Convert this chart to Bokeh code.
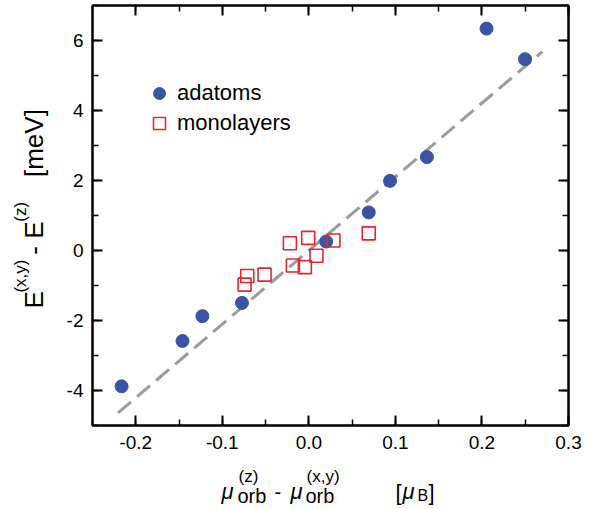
import numpy as np
from bokeh.plotting import figure
from bokeh.layouts import row, column
from bokeh.models import Range1d, LinearAxis, FixedTicker, Legend, LegendItem
from bokeh.core.properties import value
from bokeh.embed import file_html
from bokeh.resources import INLINE

# ---- data ----
adatom_x = [-0.2164, -0.146, -0.123, -0.0773, 0.020, 0.0692, 0.0938, 0.1364, 0.2053, 0.2498]
adatom_y = [-3.88, -2.585, -1.875, -1.497, 0.256, 1.088, 1.99, 2.67, 6.34, 5.466]

mono_x = [-0.0712, -0.0743, -0.0512, -0.0219, -0.0008, -0.0185, -0.0046, 0.0088, 0.0284, 0.0692]
mono_y = [-0.73, -0.974, -0.69, 0.207, 0.36, -0.43, -0.474, -0.15, 0.284, 0.49]

fit_x = [-0.2205, 0.2698]
fit_y = [-4.64, 5.68]

x_ticks = [-0.2, -0.1, 0.0, 0.1, 0.2, 0.3]
x_tick_labels = ["-0.2", "-0.1", "0.0", "0.1", "0.2", "0.3"]
y_ticks = [-4, -2, 0, 2, 4, 6]
y_tick_labels = ["-4", "-2", "0", "2", "4", "6"]
x_minor = [round(v, 2) for v in np.arange(-0.25, 0.3001, 0.05)]
y_minor = list(range(-5, 8))

legend_labels = ["adatoms", "monolayers"]

BLUE = "#3A53A4"
RED = "#E8262A"
GRAY = "#9B9B9B"
FONT = "Liberation Sans"

TOTAL_W, TOTAL_H = 600, 507
LEFT_W = 62          # column holding the rotated y title
TOP_H = 458          # height of the row holding the plot
BOT_H = TOTAL_H - TOP_H

# ---- main plot ----
p = figure(width=TOTAL_W - LEFT_W, height=TOP_H, output_backend="svg", toolbar_location=None,
           x_range=Range1d(-0.25, 0.3), y_range=Range1d(-5, 7),
           min_border_left=92 - LEFT_W, min_border_right=TOTAL_W - 568,
           min_border_top=5, min_border_bottom=TOP_H - 425,
           x_axis_location=None, y_axis_location=None)
p.grid.visible = False
p.outline_line_color = "black"
p.outline_line_width = 2
p.background_fill_color = "white"
p.border_fill_color = "white"


def style_axis(ax, ticks, minor, labels, show_labels):
    ax.ticker = FixedTicker(ticks=ticks, minor_ticks=minor)
    ax.axis_line_color = "black"
    ax.axis_line_width = 2
    ax.major_tick_in = 10
    ax.major_tick_out = 0
    ax.minor_tick_in = 6
    ax.minor_tick_out = 0
    ax.major_tick_line_width = 2
    ax.minor_tick_line_width = 1.5
    ax.major_tick_line_color = "black"
    ax.minor_tick_line_color = "black"
    if show_labels:
        ax.major_label_overrides = {t: l for t, l in zip(ticks, labels)}
        ax.major_label_text_font = FONT
        ax.major_label_text_font_size = "19px"
        ax.major_label_text_color = "black"
        ax.major_label_standoff = 10
    else:
        ax.major_label_overrides = {t: "" for t in ticks}
        ax.major_label_text_font_size = "0px"
        ax.major_label_standoff = 0


bottom = LinearAxis()
style_axis(bottom, x_ticks, x_minor, x_tick_labels, True)
p.add_layout(bottom, "below")
top = LinearAxis()
style_axis(top, x_ticks, x_minor, x_tick_labels, False)
p.add_layout(top, "above")
left = LinearAxis()
style_axis(left, y_ticks, y_minor, y_tick_labels, True)
left.major_label_standoff = 9
p.add_layout(left, "left")
right = LinearAxis()
style_axis(right, y_ticks, y_minor, y_tick_labels, False)
p.add_layout(right, "right")

p.line(fit_x, fit_y, line_color=GRAY, line_width=3, line_dash="17 8")

r_ad = p.scatter(adatom_x, adatom_y, marker="circle", size=13,
                 fill_color=BLUE, line_color=BLUE)
r_mo = p.scatter(mono_x, mono_y, marker="square", size=13,
                 fill_color=None, line_color=RED, line_width=1.6)

legend = Legend(items=[LegendItem(label=legend_labels[0], renderers=[r_ad]),
                       LegendItem(label=legend_labels[1], renderers=[r_mo])],
                location=(52, 287), orientation="vertical",
                glyph_width=30, glyph_height=30, label_height=30, spacing=0,
                padding=0, margin=0, label_standoff=3,
                label_text_font=FONT, label_text_font_size="22px",
                label_text_color="black",
                background_fill_alpha=0, border_line_color=None)
p.add_layout(legend, "center")


def blank(w, h):
    # a figure whose frame is the whole canvas, 1 data unit = 1 pixel
    f = figure(width=w, height=h, output_backend="svg", toolbar_location=None,
               x_range=Range1d(0, w), y_range=Range1d(0, h), title=None,
               min_border_left=0, min_border_right=0, min_border_top=0, min_border_bottom=0,
               x_axis_location=None, y_axis_location=None)
    f.grid.visible = False
    f.outline_line_color = None
    f.background_fill_color = "white"
    f.border_fill_color = "white"
    return f


ytitle = blank(LEFT_W, TOP_H)
xtitle = blank(TOTAL_W, BOT_H)


def lab(fig, x0, y_bottom, text, px, py, size, angle=0.0, italic=False,
        align="left", baseline="alphabetic"):
    fig.text(x=[px - x0], y=[y_bottom - py], text=[text], angle=angle,
             text_font=value(FONT), text_font_size=value(f"{size}px"),
             text_font_style="italic" if italic else "normal",
             text_align=align, text_baseline=baseline, text_color="black")


# x title: mu_orb^(z) - mu_orb^(x,y)   [mu_B]
XB = TOTAL_H
lab(xtitle, 0, XB, "\u03bc", 221, 491, 22, italic=True)
lab(xtitle, 0, XB, "orb", 237, 495, 20)
lab(xtitle, 0, XB, "(z)", 238, 476, 17)
lab(xtitle, 0, XB, "-", 274, 491, 20)
lab(xtitle, 0, XB, "\u03bc", 290, 491, 22, italic=True)
lab(xtitle, 0, XB, "orb", 305, 495, 20)
lab(xtitle, 0, XB, "(x,y)", 306, 476, 17)
lab(xtitle, 0, XB, "[", 395, 492, 22)
lab(xtitle, 0, XB, "\u03bc", 402, 491, 22, italic=True)
lab(xtitle, 0, XB, "B", 417, 495, 16)
lab(xtitle, 0, XB, "]", 428, 492, 22)

# y title (rotated): E^(x,y) - E^(z)   [meV]; each piece placed by its centre
A = np.pi / 2
C = dict(angle=A, align="center", baseline="middle")
lab(ytitle, 0, TOP_H, "E", 33, 321, 26, **C)
lab(ytitle, 0, TOP_H, "(x,y)", 20, 295, 17, **C)
lab(ytitle, 0, TOP_H, "-", 33, 267, 26, **C)
lab(ytitle, 0, TOP_H, "E", 33, 245, 26, **C)
lab(ytitle, 0, TOP_H, "(z)", 20, 225, 17, **C)
lab(ytitle, 0, TOP_H, "[meV]", 33, 150, 26, **C)

layout = column(row(ytitle, p, spacing=0), xtitle, spacing=0)

open("out.html", "w").write(file_html(layout, INLINE))
